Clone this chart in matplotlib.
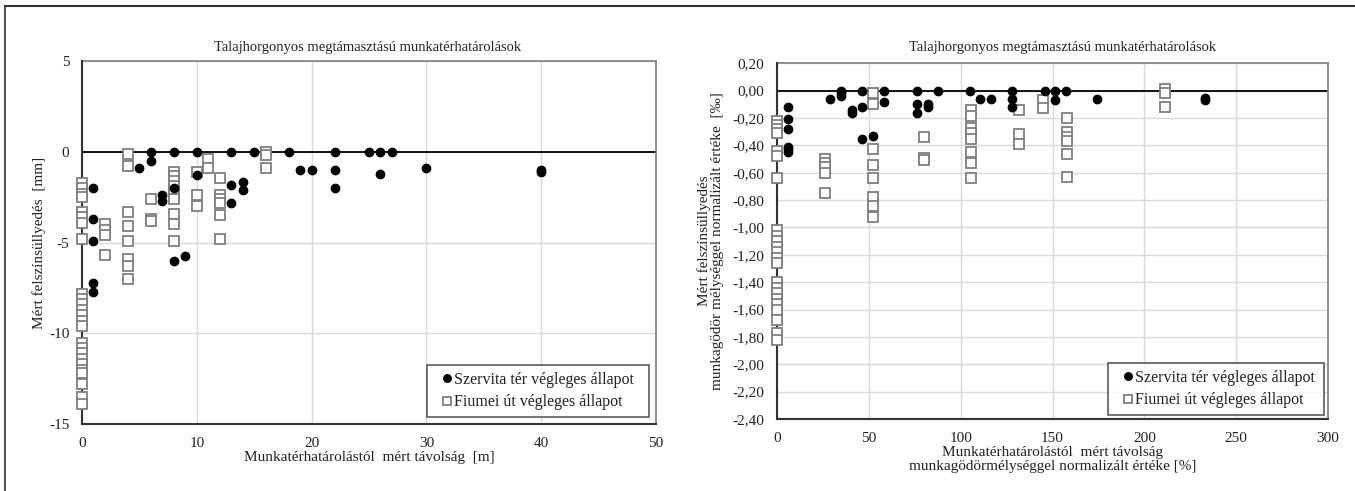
import matplotlib
matplotlib.use("Agg")
import matplotlib.pyplot as plt
from matplotlib.lines import Line2D
from matplotlib.ticker import FuncFormatter

plt.rcParams['font.family'] = ['Liberation Serif', 'DejaVu Serif']
plt.rcParams['axes.unicode_minus'] = False

# ---------------- data: left chart (mm vs m) ----------------
left_szervita_x = [1, 1, 1, 1, 1, 5, 6, 6, 7, 7, 8, 8, 8, 9, 10, 10, 13, 13, 13,
                   14, 14, 15, 18, 19, 20, 22, 22, 22, 25, 26, 26, 27, 30, 40, 40]
left_szervita_y = [-2.0, -3.7, -4.9, -7.2, -7.7, -0.9, 0, -0.5, -2.4, -2.7, 0, -2.0, -6.0,
                   -5.75, 0, -1.3, 0, -1.8, -2.8, -1.65, -2.1, 0, 0, -1.0, -1.0, 0, -1.0,
                   -2.0, 0, 0, -1.2, 0, -0.9, -1.0, -1.1]

left_fiumei_x = ([0] * 25 + [2] * 4 + [4] * 8 + [6] * 3 + [8] * 9 + [10] * 3 +
                 [11] * 2 + [12] * 6 + [16] * 3)
left_fiumei_y = ([-1.7, -2.0, -2.3, -2.5, -3.3, -3.6, -3.9, -4.8, -7.8, -8.1, -8.4, -8.7,
                  -9.0, -9.3, -9.6, -10.5, -10.8, -11.1, -11.4, -11.7, -12.0, -12.2,
                  -12.8, -13.5, -13.9] +
                 [-4.0, -4.3, -4.6, -5.7] +
                 [-0.1, -0.8, -3.3, -4.1, -4.9, -5.9, -6.3, -7.0] +
                 [-2.6, -3.7, -3.8] +
                 [-1.1, -1.35, -1.6, -1.9, -2.25, -2.6, -3.45, -3.95, -4.9] +
                 [-1.1, -2.4, -3.0] +
                 [-0.4, -0.9] +
                 [-1.45, -2.35, -2.6, -2.8, -3.5, -4.8] +
                 [0, -0.15, -0.9])

# ---------------- data: right chart (normalised) ----------------
right_szervita_x = [5.8, 5.8, 5.8, 5.8, 5.8, 5.8, 29, 35, 35, 35, 41, 41, 46.5, 46.5, 46.5,
                    52.5, 58.5, 58.5, 76, 76, 76, 82, 82, 87.5, 105, 110.5, 116.5,
                    128, 128, 128, 146, 151.5, 151.5, 157.5, 174.5, 233, 233]
right_szervita_y = [-0.12, -0.21, -0.28, -0.41, -0.43, -0.45, -0.06, 0, -0.02, -0.04,
                    -0.14, -0.16, 0, -0.12, -0.35, -0.33, 0, -0.08, 0, -0.10, -0.16,
                    -0.10, -0.12, 0, 0, -0.06, -0.06, 0, -0.06, -0.12, 0, 0, -0.07,
                    0, -0.06, -0.05, -0.07]

right_fiumei_x = ([0] * 23 + [26.3] * 5 + [52.5] * 8 + [80] * 3 + [105.5] * 8 +
                  [132] * 3 + [145] * 2 + [158] * 6 + [211] * 3)
right_fiumei_y = ([-0.22, -0.25, -0.28, -0.31, -0.44, -0.48, -0.64, -1.02, -1.06, -1.10,
                   -1.14, -1.18, -1.22, -1.26, -1.40, -1.44, -1.48, -1.52, -1.56, -1.60,
                   -1.68, -1.77, -1.82] +
                  [-0.50, -0.53, -0.56, -0.60, -0.75] +
                  [-0.02, -0.10, -0.43, -0.54, -0.64, -0.78, -0.84, -0.92] +
                  [-0.34, -0.49, -0.51] +
                  [-0.14, -0.185, -0.275, -0.31, -0.35, -0.45, -0.53, -0.64] +
                  [-0.14, -0.32, -0.39] +
                  [-0.07, -0.13] +
                  [-0.20, -0.30, -0.34, -0.37, -0.46, -0.63] +
                  [0.01, -0.015, -0.12])

title_text = "Talajhorgonyos megtámasztású munkatérhatárolások"
legend_labels = ["Szervita tér végleges állapot", "Fiumei út végleges állapot"]

left_xticks = [0, 10, 20, 30, 40, 50]
left_yticks = [5, 0, -5, -10, -15]
right_xticks = [0, 50, 100, 150, 200, 250, 300]
right_yticks = [0.2, 0.0, -0.2, -0.4, -0.6, -0.8, -1.0, -1.2, -1.4, -1.6, -1.8, -2.0, -2.2, -2.4]

W, H = 1355, 491
fig = plt.figure(figsize=(W / 100, H / 100), dpi=100)

def fr(x0, y_top, x1, y_bot):
    return [x0 / W, 1 - y_bot / H, (x1 - x0) / W, (y_bot - y_top) / H]

axL = fig.add_axes(fr(82, 61, 656, 424.3))
axR = fig.add_axes(fr(777, 63.3, 1328, 419))

dot_kw = dict(marker='o', linestyle='none', markersize=6, markerfacecolor='black',
              markeredgecolor='black', zorder=5, clip_on=False)
sq_kw = dict(marker='s', linestyle='none', markersize=6.5, markerfacecolor='white',
             markeredgecolor='#7f7f7f', markeredgewidth=1.3, zorder=4, clip_on=False)

TXT = '#222222'

def style(ax, xlim, ylim, xticks, yticks):
    ax.set_xlim(*xlim)
    ax.set_ylim(*ylim)
    ax.set_xticks(xticks)
    ax.set_yticks(yticks)
    ax.grid(True, color='#d9d9d9', linewidth=1.0, zorder=0)
    ax.set_axisbelow(True)
    ax.axhline(0, color='black', linewidth=1.3, zorder=2)
    for s in ['top', 'right']:
        ax.spines[s].set_color('#7f7f7f')
        ax.spines[s].set_linewidth(1.2)
    for s in ['left', 'bottom']:
        ax.spines[s].set_color('#333333')
        ax.spines[s].set_linewidth(1.5)
        ax.spines[s].set_zorder(3)
    ax.tick_params(length=0, labelsize=11, colors=TXT, pad=9)

# Left chart
axL.plot(left_fiumei_x, left_fiumei_y, label=legend_labels[1], **sq_kw)
axL.plot(left_szervita_x, left_szervita_y, label=legend_labels[0], **dot_kw)
style(axL, (0, 50), (-15, 5), left_xticks, left_yticks)
axL.set_xlabel("Munkatérhatárolástól  mért távolság  [m]", fontsize=11, color=TXT, labelpad=1)
axL.set_ylabel("Mért felszínsüllyedés  [mm]", fontsize=11, color=TXT)
axL.yaxis.set_label_coords(-0.063, 0.5)

# Right chart
axR.plot(right_fiumei_x, right_fiumei_y, label=legend_labels[1], **sq_kw)
axR.plot(right_szervita_x, right_szervita_y, label=legend_labels[0], **dot_kw)
style(axR, (0, 300), (-2.4, 0.2), right_xticks, right_yticks)
axR.yaxis.set_major_formatter(FuncFormatter(lambda v, p: f"{v:.2f}".replace('.', ',').replace('-0,00', '0,00')))
axR.set_xlabel("Munkatérhatárolástól  mért távolság\nmunkagödörmélységgel normalizált értéke [%]",
               fontsize=11, color=TXT, labelpad=1, linespacing=1.1)
axR.set_ylabel("Mért felszínsüllyedés\nmunkagödör mélységgel normalizált értéke  [‰]",
               fontsize=11, color=TXT, linespacing=1.05)
axR.yaxis.set_label_coords(-0.096, 0.5)

# Legends
for ax, bbox in [(axL, fr(427, 361, 649, 421)), (axR, fr(1108, 362, 1324, 416))]:
    h, l = ax.get_legend_handles_labels()
    order = [1, 0]
    leg = ax.legend([h[i] for i in order], [l[i] for i in order],
                    loc='center', bbox_to_anchor=(bbox[0], bbox[1], bbox[2], bbox[3]),
                    bbox_transform=fig.transFigure, mode='expand', borderaxespad=0,
                    fontsize=11.5, frameon=True, fancybox=False, handlelength=1.6,
                    handletextpad=-0.35, borderpad=0.45, labelspacing=0.4, markerscale=0.9)
    leg.get_frame().set_edgecolor('#333333')
    leg.get_frame().set_linewidth(1.2)
    leg.set_zorder(10)
    for t in leg.get_texts():
        t.set_color(TXT)

# Titles
fig.text(368 / W, 1 - 47 / H, title_text, ha='center', va='center', fontsize=10.5, color=TXT)
fig.text(1063 / W, 1 - 47 / H, title_text, ha='center', va='center', fontsize=10.5, color=TXT)

# Outer frame
fig.add_artist(Line2D([5 / W, 5 / W], [0, 1 - 6 / H], color='#555555', linewidth=1.5,
                      transform=fig.transFigure))
fig.add_artist(Line2D([5 / W, 1], [1 - 6 / H, 1 - 6 / H], color='#333333', linewidth=1.5,
                      transform=fig.transFigure))

fig.savefig("out.png", dpi=100)
